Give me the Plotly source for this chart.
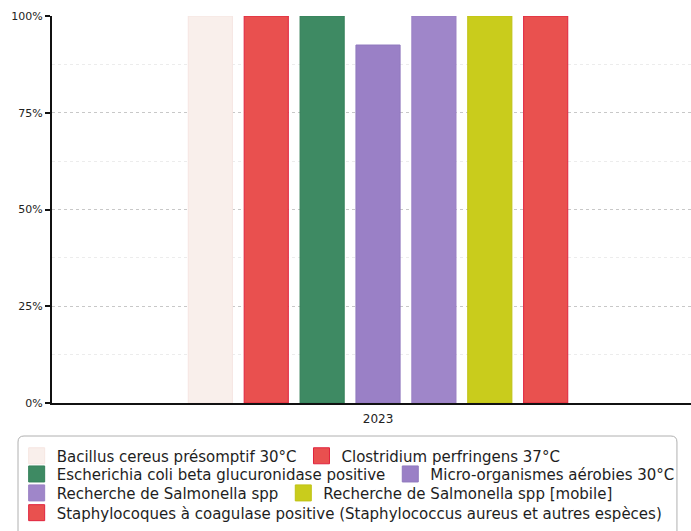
import plotly.graph_objects as go

# Share of conforming results per analysis, year 2023
years = ["2023"]
analyses = [
    "Bacillus cereus présomptif 30°C",
    "Clostridium perfringens 37°C",
    "Escherichia coli beta glucuronidase positive",
    "Micro-organismes aérobies 30°C",
    "Recherche de Salmonella spp",
    "Recherche de Salmonella spp [mobile]",
    "Staphylocoques à coagulase positive (Staphylococcus aureus et autres espèces)",
]
conformity = [100, 100, 100, 92.5, 100, 100, 100]
colors = ["#f9efeb", "#e9504f", "#3e8a63", "#9a80c6", "#9f86c9", "#c9cc1c", "#e9514f"]
edges = ["#f6e6e2", "#e0233d", "#35805a", "#9079be", "#9a80c4", "#bfc214", "#e0233d"]
legend_rows = ["legend", "legend", "legend2", "legend2", "legend3", "legend3", "legend4"]

FONT = "DejaVu Sans"

fig = go.Figure()
for name, val, col, edge, lg in zip(analyses, conformity, colors, edges, legend_rows):
    # bars in the plot
    fig.add_trace(go.Bar(
        x=years, y=[val], name=name, legendgroup=name, showlegend=False,
        marker=dict(color=col, line=dict(color=edge, width=1)),
    ))
    # larger square key for the legend
    fig.add_trace(go.Scatter(
        x=[None], y=[None], mode="markers", name=name, legendgroup=name,
        marker=dict(symbol="square", size=16, color=col,
                    line=dict(color=edge, width=1)),
        legend=lg, hoverinfo="skip",
    ))

row_y = [-0.137, -0.184, -0.233, -0.284]
legend_style = dict(
    orientation="h", x=-0.0553, xanchor="left", yanchor="middle",
    bgcolor="rgba(0,0,0,0)", borderwidth=0,
    font=dict(family=FONT, size=15, color="#1e1e1e"),
    itemwidth=30, tracegroupgap=0,
)

# rounded legend frame in paper coordinates
x0, x1, y0, y1 = -0.0532, 0.978, -0.40, -0.0853
rx, ry = 0.0094, 0.0155
frame = (f"M {x0+rx},{y1} L {x1-rx},{y1} Q {x1},{y1} {x1},{y1-ry} "
         f"L {x1},{y0+ry} Q {x1},{y0} {x1-rx},{y0} L {x0+rx},{y0} "
         f"Q {x0},{y0} {x0},{y0+ry} L {x0},{y1-ry} Q {x0},{y1} {x0+rx},{y1} Z")

fig.update_layout(
    width=691, height=531,
    margin=dict(l=52, r=0, t=16, b=128),
    paper_bgcolor="white", plot_bgcolor="white",
    barmode="group", bargap=0.40, bargroupgap=0.21,
    font=dict(family=FONT, size=12, color="#222"),
    showlegend=True,
    legend=dict(y=row_y[0], **legend_style),
    legend2=dict(y=row_y[1], **legend_style),
    legend3=dict(y=row_y[2], **legend_style),
    legend4=dict(y=row_y[3], **legend_style),
    xaxis=dict(
        type="category", range=[-0.5, 0.48],
        showline=True, linecolor="#111", linewidth=2,
        ticks="", showgrid=False, ticklabelstandoff=4,
        tickfont=dict(family=FONT, size=12, color="#222"),
    ),
    yaxis=dict(
        range=[0, 100], tickvals=[0, 25, 50, 75, 100],
        ticktext=["0%", "25%", "50%", "75%", "100%"],
        showline=True, linecolor="#111", linewidth=2,
        ticks="outside", ticklen=5, tickwidth=1.5, tickcolor="#111",
        showgrid=True, gridcolor="#c8c8c8", gridwidth=1, griddash="dot",
        minor=dict(tickvals=[12.5, 37.5, 62.5, 87.5], showgrid=True,
                   gridcolor="#ececec", griddash="dot", ticks=""),
        zeroline=False,
        tickfont=dict(family=FONT, size=11, color="#222"),
    ),
    shapes=[dict(
        type="path", xref="paper", yref="paper", path=frame,
        line=dict(color="#b0b0b0", width=1), fillcolor="rgba(0,0,0,0)",
        layer="below",
    )],
)

fig.write_html("out.html")
